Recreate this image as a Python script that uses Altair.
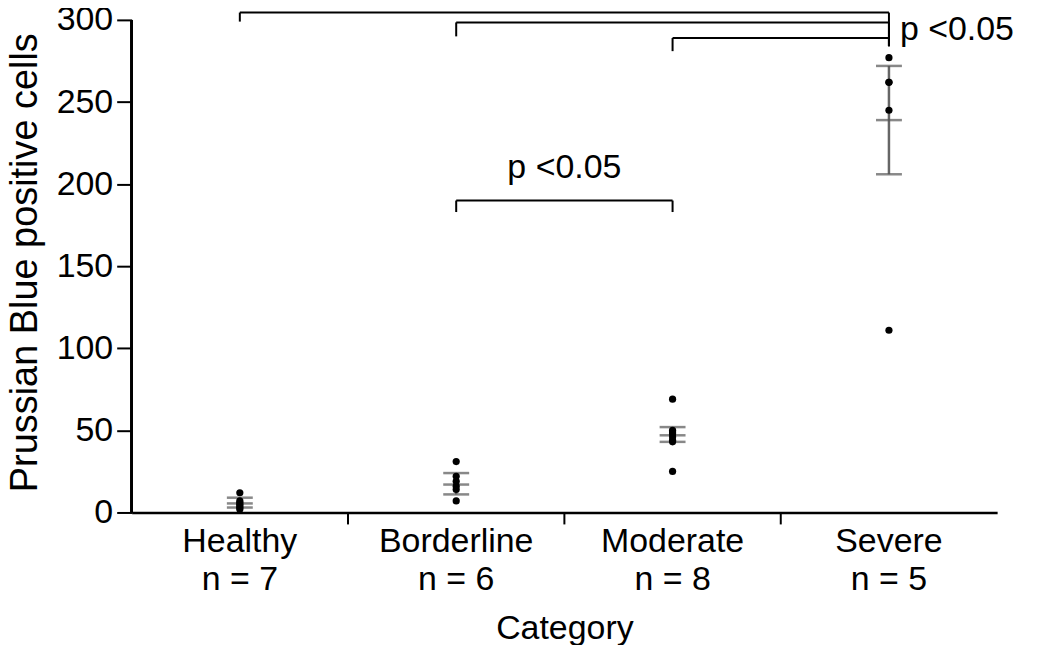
import altair as alt
import pandas as pd

# ---- data ----
categories = ["Healthy", "Borderline", "Moderate", "Severe"]
n_counts = [7, 6, 8, 5]

healthy_vals = [12, 7, 6, 5, 4, 3, 2]
borderline_vals = [31, 22, 19, 16, 14, 7]
moderate_vals = [69, 50, 49, 48, 46, 44, 43, 25]
severe_vals = [277, 262, 262, 245, 111]

group_mean = [5.5, 17, 47, 239]
group_lo = [3, 11, 43, 206]
group_hi = [9, 24, 52, 272]

# significance brackets: left group, right group, bar height, left leg bottom, right leg bottom
br_left = ["Healthy", "Borderline", "Moderate", "Borderline"]
br_right = ["Severe", "Severe", "Severe", "Moderate"]
br_height = [304.5, 298.5, 289, 190]
br_leg = [299, 290, 281, 183]
br_right_leg = [284, 284, 284, 183]
sig_text = "p <0.05"
sig_y = [294, 210]

FONT = "Liberation Sans"
FS = 34

# ---- tables ----
vals = [healthy_vals, borderline_vals, moderate_vals, severe_vals]
pts = pd.DataFrame(
    [{"category": c, "value": v} for c, vs in zip(categories, vals) for v in vs]
)
err = pd.DataFrame(
    {"category": categories, "mean": group_mean, "lo": group_lo, "hi": group_hi}
)
br = pd.DataFrame(
    {"left": br_left, "right": br_right, "h": br_height, "leg": br_leg, "rleg": br_right_leg}
)
sep = pd.DataFrame({"category": categories[1:]})

label_map = "{" + ",".join(f"'{c}':'n = {n}'" for c, n in zip(categories, n_counts)) + "}"

W, H = 868, 502
x_scale = alt.Scale(domain=categories, paddingInner=0, paddingOuter=0)
y_scale = alt.Scale(domain=[0, 304.9], nice=False)

x_enc = alt.X(
    "category:N",
    scale=x_scale,
    sort=categories,
    axis=alt.Axis(
        title="Category",
        labelAngle=0,
        labelAlign="center",
        ticks=False,
        labelPadding=29,
        labelFontSize=FS,
        labelLineHeight=38,
        labelExpr=f"[datum.label, {label_map}[datum.label]]",
        titleFontSize=FS,
        titleFontWeight="normal",
        titlePadding=15,
        domainWidth=2.5,
    ),
)
y_enc = alt.Y(
    "value:Q",
    scale=y_scale,
    axis=alt.Axis(
        title="Prussian Blue positive cells",
        values=[0, 50, 100, 150, 200, 250, 300],
        domain=False,
        grid=False,
        tickSize=15,
        tickWidth=2,
        labelPadding=4,
        labelFontSize=FS,
        titleFontSize=38,
        titleFontWeight="normal",
        titlePadding=12,
    ),
)

xc = lambda f: alt.X(f, scale=x_scale, sort=categories)

y_axis_line = alt.Chart(err).mark_rule(color="black", strokeWidth=2.5).encode(
    x=alt.value(0), y=alt.datum(0, scale=y_scale), y2=alt.datum(300)
)

sep_ticks = alt.Chart(sep).mark_rule(color="black", strokeWidth=2).encode(
    x=alt.X("category:N", scale=x_scale, sort=categories, bandPosition=0),
    y=alt.value(H),
    y2=alt.value(H + 12),
)

err_rule = alt.Chart(err).mark_rule(color="#666666", strokeWidth=2.5).encode(
    x=xc("category:N"), y=alt.Y("lo:Q", scale=y_scale), y2="hi:Q"
)
err_caps_lo = alt.Chart(err).mark_tick(color="#555555", size=26, thickness=2.5).encode(
    x=xc("category:N"), y=alt.Y("lo:Q", scale=y_scale)
)
err_caps_hi = alt.Chart(err).mark_tick(color="#555555", size=26, thickness=2.5).encode(
    x=xc("category:N"), y=alt.Y("hi:Q", scale=y_scale)
)
err_mean = alt.Chart(err).mark_tick(color="#555555", size=26, thickness=2.5).encode(
    x=xc("category:N"), y=alt.Y("mean:Q", scale=y_scale)
)

points = alt.Chart(pts).mark_circle(color="black", opacity=1, size=52).encode(x=x_enc, y=y_enc)

br_h = alt.Chart(br).mark_rule(color="black", strokeWidth=2).encode(
    x=xc("left:N"), x2="right:N", y=alt.Y("h:Q", scale=y_scale)
)
br_l = alt.Chart(br).mark_rule(color="black", strokeWidth=2).encode(
    x=xc("left:N"), y=alt.Y("h:Q", scale=y_scale), y2="leg:Q"
)
br_r = alt.Chart(br).mark_rule(color="black", strokeWidth=2).encode(
    x=xc("right:N"), y=alt.Y("h:Q", scale=y_scale), y2="rleg:Q"
)

txt_df = pd.DataFrame({"cat": ["Severe", "Moderate"], "y": sig_y, "t": [sig_text, sig_text]})
txt_right = alt.Chart(txt_df.iloc[[0]]).mark_text(
    align="left", baseline="middle", dx=11, fontSize=FS, font=FONT, color="black"
).encode(x=xc("cat:N"), y=alt.Y("y:Q", scale=y_scale), text="t:N")
txt_mid = alt.Chart(txt_df.iloc[[1]]).mark_text(
    align="center", baseline="middle", fontSize=FS, font=FONT, color="black"
).encode(
    x=alt.X("cat:N", scale=x_scale, sort=categories, bandPosition=0),
    y=alt.Y("y:Q", scale=y_scale),
    text="t:N",
)

chart = (
    alt.layer(
        y_axis_line,
        sep_ticks,
        err_rule,
        err_caps_lo,
        err_caps_hi,
        err_mean,
        points,
        br_h,
        br_l,
        br_r,
        txt_right,
        txt_mid,
    )
    .properties(
        width=W,
        height=H,
        autosize=alt.AutoSizeParams(type="none"),
        padding={"left": 124, "top": 3, "right": 45, "bottom": 132},
    )
    .configure_view(stroke=None)
    .configure_axis(
        labelFont=FONT,
        titleFont=FONT,
        labelColor="black",
        titleColor="black",
        domainColor="black",
        tickColor="black",
    )
)

chart.save("out.html", embed_options={"renderer": "svg", "actions": False})
